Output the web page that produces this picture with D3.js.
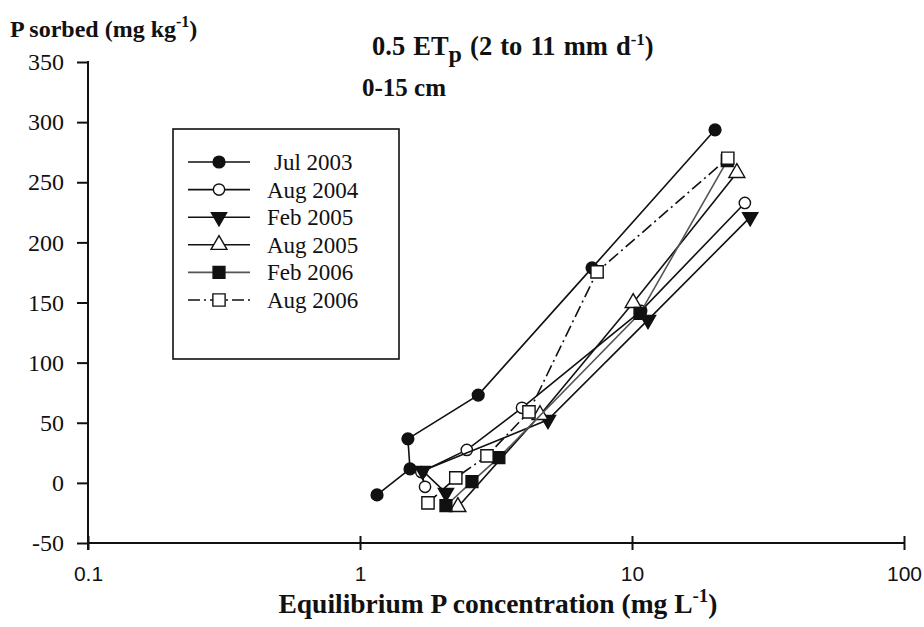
<!DOCTYPE html>
<html><head><meta charset="utf-8">
<script src="https://cdn.jsdelivr.net/npm/d3@7"></script>
<style>
body{margin:0;background:#fff}
</style>
</head><body>
<svg id="chart" width="924" height="627"></svg>
<script>
// ---------- data ----------
const seriesNames = ["Jul 2003", "Aug 2004", "Feb 2005", "Aug 2005", "Feb 2006", "Aug 2006"];

const jul2003X = [1.155, 1.527, 1.50, 2.72, 7.13, 20.2];
const jul2003Y = [-10, 11.6, 36.6, 73, 178.8, 293.6];

const aug2004X = [1.734, 1.68, 2.47, 3.94, 10.8, 26.0];
const aug2004Y = [-3.3, 9, 27.4, 62.4, 143, 232.8];

const feb2005X = [2.07, 1.70, 4.91, 11.45, 27.2];
const feb2005Y = [-8.3, 10, 52.4, 135.5, 221];

const aug2005X = [2.29, 4.59, 10.1, 24.3];
const aug2005Y = [-20, 56.5, 149.7, 257.8];

const feb2006X = [2.07, 2.58, 3.24, 10.7, 22.4];
const feb2006Y = [-19, 1, 21, 141, 268];

const aug2006X = [1.778, 2.25, 2.93, 4.18, 7.44, 22.5];
const aug2006Y = [-16.6, 4.2, 22.5, 59, 175.5, 270];

const xTickValues = [0.1, 1, 10, 100];
const xTickLabels = ["0.1", "1", "10", "100"];
const yTickValues = [-50, 0, 50, 100, 150, 200, 250, 300, 350];
const yTickLabels = ["-50", "0", "50", "100", "150", "200", "250", "300", "350"];

const seriesX = [jul2003X, aug2004X, feb2005X, aug2005X, feb2006X, aug2006X];
const seriesY = [jul2003Y, aug2004Y, feb2005Y, aug2005Y, feb2006Y, aug2006Y];

// ---------- styles ----------
const SERIF = '"Liberation Serif", "Times New Roman", serif';
const SANS = '"Liberation Sans", Arial, sans-serif';
const styles = [
  {sym: d3.symbolCircle, size: 110, fill: "#111", rot: 0, dash: null, stroke: "#111"},
  {sym: d3.symbolCircle, size: 100, fill: "#fff", rot: 0, dash: null, stroke: "#111"},
  {sym: d3.symbolTriangle, size: 100, fill: "#111", rot: 180, dash: null, stroke: "#111"},
  {sym: d3.symbolTriangle, size: 110, fill: "#fff", rot: 0, dash: null, stroke: "#111"},
  {sym: d3.symbolSquare, size: 140, fill: "#111", rot: 0, dash: null, stroke: "#555"},
  {sym: d3.symbolSquare, size: 150, fill: "#fff", rot: 0, dash: "12,4,2,4", stroke: "#111"}
];

const svg = d3.select("#chart");
svg.append("rect").attr("width", 924).attr("height", 627).attr("fill", "#fff");

const x = d3.scaleLog().domain([0.1, 100]).range([88, 904]);
const y = d3.scaleLinear().domain([-50, 350]).range([543, 62]);

// ---------- axes ----------
const yAxis = d3.axisLeft(y).tickValues(yTickValues).tickSizeInner(11).tickSizeOuter(0).tickPadding(13)
  .tickFormat((d, i) => yTickLabels[i]);
const gy = svg.append("g").attr("transform", "translate(88,0)").call(yAxis);
gy.select(".domain").remove();
gy.selectAll(".tick line").attr("stroke", "#111").attr("stroke-width", 2);
gy.selectAll(".tick text").style("font-family", SERIF).style("font-size", "24px").attr("fill", "#111");
gy.append("line").attr("x1", 0).attr("x2", 0).attr("y1", y(350) - 1).attr("y2", y(-50) + 7)
  .attr("stroke", "#111").attr("stroke-width", 2);

const xAxis = d3.axisBottom(x).tickValues(xTickValues).tickFormat((d, i) => xTickLabels[i])
  .tickSizeInner(7).tickSizeOuter(0).tickPadding(16);
const gx = svg.append("g").attr("transform", `translate(0,${y(-50)})`).call(xAxis);
gx.select(".domain").remove();
gx.selectAll(".tick line").attr("y1", -7).attr("stroke", "#111").attr("stroke-width", 2);
gx.selectAll(".tick text").style("font-family", SANS).style("font-size", "21px").attr("fill", "#111");
gx.append("line").attr("x1", x(0.1)).attr("x2", x(100)).attr("y1", 0).attr("y2", 0)
  .attr("stroke", "#111").attr("stroke-width", 2);

// ---------- series ----------
const line = d3.line().x(d => x(d[0])).y(d => y(d[1]));
seriesNames.forEach((name, i) => {
  const st = styles[i];
  const pts = seriesX[i].map((v, k) => [v, seriesY[i][k]]);
  const g = svg.append("g");
  g.append("path").attr("d", line(pts)).attr("fill", "none").attr("stroke", st.stroke)
    .attr("stroke-width", 1.6).attr("stroke-dasharray", st.dash);
  g.selectAll("path.m").data(pts).enter().append("path").attr("class", "m")
    .attr("d", d3.symbol().type(st.sym).size(st.size))
    .attr("transform", d => `translate(${x(d[0])},${y(d[1])}) rotate(${st.rot})`)
    .attr("fill", st.fill).attr("stroke", "#111").attr("stroke-width", 1.4);
});

// ---------- legend ----------
const lg = svg.append("g");
lg.append("rect").attr("x", 173).attr("y", 129).attr("width", 226).attr("height", 230)
  .attr("fill", "#fff").attr("stroke", "#111").attr("stroke-width", 1.6);
const legY = d3.scalePoint().domain(seriesNames).range([162, 300]);
seriesNames.forEach((name, i) => {
  const st = styles[i];
  const yy = legY(name);
  lg.append("line").attr("x1", 188).attr("x2", 250).attr("y1", yy).attr("y2", yy)
    .attr("stroke", st.stroke).attr("stroke-width", 1.6).attr("stroke-dasharray", st.dash);
  lg.append("path").attr("d", d3.symbol().type(st.sym).size(st.size))
    .attr("transform", `translate(219,${yy}) rotate(${st.rot})`)
    .attr("fill", st.fill).attr("stroke", "#111").attr("stroke-width", 1.4);
  lg.append("text").attr("x", i === 0 ? 274 : 267).attr("y", yy + 8)
    .style("font-family", SERIF).style("font-size", "23px").attr("fill", "#111").text(name);
});

// ---------- titles ----------
const yt = svg.append("text").attr("x", 10).attr("y", 37)
  .style("font-family", SERIF).style("font-size", "24px").style("font-weight", "bold").attr("fill", "#111");
yt.append("tspan").text("P sorbed (mg kg");
yt.append("tspan").attr("dy", -10).style("font-size", "16px").text("-1");
yt.append("tspan").attr("dy", 10).text(")");

const xt = svg.append("text").attr("x", 498).attr("y", 613).attr("text-anchor", "middle")
  .style("font-family", SERIF).style("font-size", "27.5px").style("font-weight", "bold").attr("fill", "#111");
xt.append("tspan").text("Equilibrium P concentration (mg L");
xt.append("tspan").attr("dy", -11).style("font-size", "19px").text("-1");
xt.append("tspan").attr("dy", 11).text(")");

const tt = svg.append("text").attr("x", 372).attr("y", 55)
  .style("font-family", SERIF).style("font-size", "26.5px").style("font-weight", "bold")
  .style("word-spacing", "1.5px").attr("fill", "#111");
tt.append("tspan").text("0.5 ET");
tt.append("tspan").attr("dy", 7).style("font-size", "24px").text("p");
tt.append("tspan").attr("dy", -7).text(" (2 to 11 mm d");
tt.append("tspan").attr("dy", -10).style("font-size", "17px").text("-1");
tt.append("tspan").attr("dy", 10).text(")");

svg.append("text").attr("x", 362).attr("y", 96)
  .style("font-family", SERIF).style("font-size", "25px").style("font-weight", "bold").attr("fill", "#111").text("0-15 cm");
</script>
</body></html>
